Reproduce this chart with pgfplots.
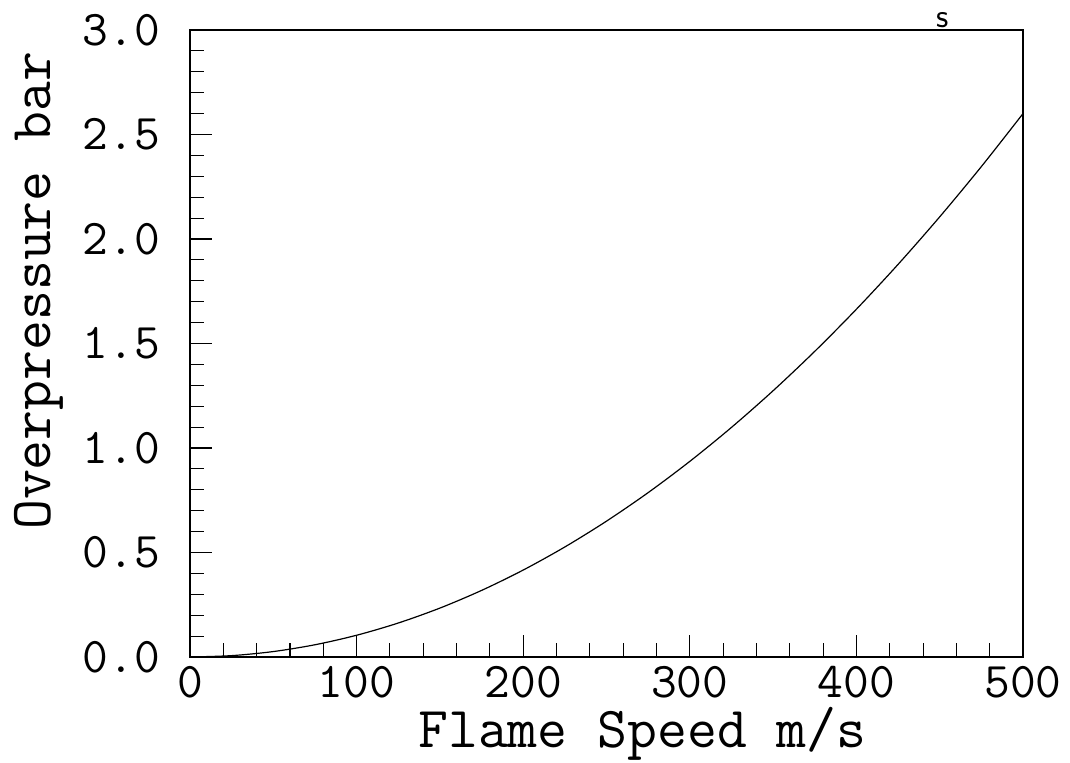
\documentclass[border=0pt]{standalone}
\usepackage{fontspec}
\usepackage{pgfplots}
\pgfplotsset{compat=1.18}
\begin{document}
\begin{tikzpicture}
\begin{axis}[
  scale only axis, width=833pt, height=627pt,
  xmin=0, xmax=500, ymin=0, ymax=3,
  xtick={0,100,200,300,400,500}, minor x tick num=4,
  ytick={0,0.5,1,1.5,2,2.5,3}, minor y tick num=4,
  tick align=inside, xtick pos=left, ytick pos=left,
  major tick length=22pt, minor tick length=14pt,
  every tick/.style={black, line width=1.1pt},
  axis line style={line width=1.6pt},
  /pgf/number format/assume math mode=true,
  yticklabel style={/pgf/number format/fixed, /pgf/number format/fixed zerofill, /pgf/number format/precision=1, xshift=-30pt},
  ticklabel style={font=\fontsize{50}{50}\selectfont\ttfamily, inner sep=0pt},
  xticklabel style={yshift=-9pt},
  xlabel={Flame Speed m/s}, ylabel={Overpressure bar},
  label style={font=\fontsize{58}{58}\selectfont\ttfamily, inner sep=0pt},
  xlabel style={at={(axis description cs:0.543,-0.122)}, anchor=center},
  ylabel style={at={(axis description cs:-0.182,0.584)}, anchor=center},
  clip=false,
]
\addplot[black, line width=1.2pt, smooth] coordinates {
(0,0) (25,0.0065) (50,0.026) (75,0.0585) (100,0.104) (125,0.1625) (150,0.234)
(175,0.3185) (200,0.416) (225,0.5265) (250,0.65) (275,0.7865) (300,0.936)
(325,1.0985) (350,1.274) (375,1.4625) (400,1.664) (425,1.8785) (450,2.106)
(475,2.3465) (500,2.6)};
\node[anchor=south, inner sep=2pt] at (axis cs:452,3) {\fontsize{34}{34}\selectfont\sffamily s};
\path (rel axis cs:-0.2281,-0.1675) (rel axis cs:1.0564,1.0478);
\end{axis}
\end{tikzpicture}
\end{document}
